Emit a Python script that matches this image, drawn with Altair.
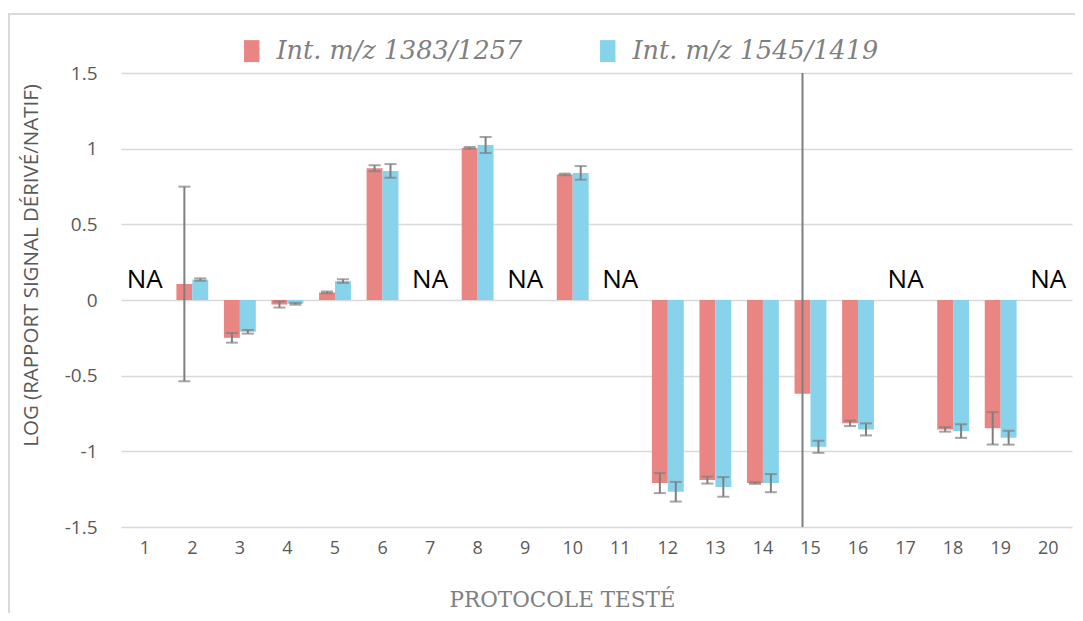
import altair as alt
import pandas as pd

categories = [str(i) for i in range(1, 21)]
na_categories = ["1", "7", "9", "11", "17", "20"]
measured = ["2", "3", "4", "5", "6", "8", "10", "12", "13", "14", "15", "16", "18", "19"]
series_names = ["Int. m/z 1383/1257", "Int. m/z 1545/1419"]

red_values = [0.106, -0.25, -0.03, 0.05, 0.87, 1.005, 0.83, -1.21, -1.19, -1.21, -0.62, -0.815, -0.855, -0.848]
red_sd = [0.643, 0.032, 0.02, 0.006, 0.02, 0.006, 0.005, 0.066, 0.023, 0.005, 2.5, 0.018, 0.015, 0.107]
blue_values = [0.135, -0.21, -0.025, 0.125, 0.853, 1.024, 0.84, -1.267, -1.235, -1.21, -0.97, -0.855, -0.866, -0.91]
blue_sd = [0.008, 0.012, 0.006, 0.012, 0.045, 0.053, 0.045, 0.065, 0.065, 0.06, 0.04, 0.04, 0.045, 0.046]

RED = "#E98683"
BLUE = "#87D3EB"
GRID = "#d9d9d9"
ERR = "#7f7f7f"

rows = []
for name, vals, sds in [(series_names[0], red_values, red_sd), (series_names[1], blue_values, blue_sd)]:
    for c, v, s in zip(measured, vals, sds):
        rows.append({"cat": c, "series": name, "value": v, "lo": v - s, "hi": v + s})
df = pd.DataFrame(rows)

caps = pd.concat([
    df[["cat", "series", "lo"]].rename(columns={"lo": "cap"}),
    df[["cat", "series", "hi"]].rename(columns={"hi": "cap"}),
])

na_df = pd.DataFrame({"cat": na_categories, "zero": [0] * len(na_categories), "label": ["NA"] * len(na_categories)})

x_enc = alt.X(
    "cat:N",
    sort=categories,
    scale=alt.Scale(domain=categories, paddingInner=0.33, paddingOuter=0.165),
    axis=alt.Axis(
        title="PROTOCOLE TESTÉ",
        labelAngle=0,
        ticks=False,
        domain=False,
        grid=False,
        labelFont="Open Sans",
        labelFontSize=18,
        labelColor="#595959",
        labelPadding=12,
        titleFont="DejaVu Serif",
        titleFontSize=21.5,
        titleFontWeight="normal",
        titleColor="#7f7f7f",
        titleX=441,
        titleY=73,
        titleAlign="center",
        titleBaseline="middle",
    ),
)
xoff = alt.XOffset("series:N", sort=series_names,
                   scale=alt.Scale(domain=series_names, paddingInner=0, paddingOuter=0))
y_scale = alt.Scale(domain=[-1.5, 1.5], nice=False, zero=False)
y_axis = alt.Axis(
    title="LOG (RAPPORT SIGNAL DÉRIVÉ/NATIF)",
    values=[-1.5, -1, -0.5, 0, 0.5, 1, 1.5],
    labelExpr="'' + datum.value",
    ticks=False,
    domain=False,
    grid=True,
    gridColor=GRID,
    gridWidth=1.5,
    labelFont="Open Sans",
    labelFontSize=19,
    labelColor="#595959",
    labelPadding=24,
    titleFont="Open Sans",
    titleFontSize=20.5,
    titleFontWeight="normal",
    titleColor="#595959",
    titleX=-90,
    titleY=192,
    titleAngle=270,
    titleAlign="center",
    titleBaseline="middle",
)

bars = alt.Chart(df).mark_bar().encode(
    x=x_enc,
    xOffset=xoff,
    y=alt.Y("value:Q", scale=y_scale, axis=y_axis),
    color=alt.Color(
        "series:N",
        sort=series_names,
        scale=alt.Scale(domain=series_names, range=[RED, BLUE]),
        legend=alt.Legend(
            title=None,
            orient="none",
            legendX=118,
            legendY=-35,
            direction="horizontal",
            symbolType="M-0.7,-1L0.7,-1L0.7,1L-0.7,1Z",
            symbolSize=484,
            symbolStrokeWidth=0,
            symbolOpacity=1,
            labelFont="DejaVu Serif",
            labelFontStyle="italic",
            labelFontSize=25.5,
            labelColor="#7f7f7f",
            labelOffset=12,
            labelLimit=500,
            columnPadding=72,
        ),
    ),
)

whiskers = alt.Chart(df).mark_rule(color=ERR, strokeWidth=2, clip=True).encode(
    x=x_enc, xOffset=xoff, y=alt.Y("lo:Q", scale=y_scale), y2="hi:Q"
)

cap_marks = alt.Chart(caps).mark_tick(color=ERR, thickness=2, size=12, clip=True).encode(
    x=x_enc, xOffset=xoff, y=alt.Y("cap:Q", scale=y_scale)
)

na_text = alt.Chart(na_df).mark_text(
    font="Open Sans", fontSize=26, color="black", baseline="alphabetic", dy=-12
).encode(x=x_enc, y=alt.Y("zero:Q", scale=y_scale), text="label:N")

frame_top = alt.Chart(na_df).mark_rule(color=GRID, strokeWidth=1.5).encode(
    x=alt.value(-113), x2=alt.value(954), y=alt.value(-59)
)
frame_left = alt.Chart(na_df).mark_rule(color=GRID, strokeWidth=1.5).encode(
    x=alt.value(-112), y=alt.value(-59), y2=alt.value(540)
)

chart = alt.layer(bars, whiskers, cap_marks, na_text, frame_top, frame_left).properties(
    width=951,
    height=454,
    padding={"left": 113, "top": 65, "right": 3, "bottom": 86},
    autosize=alt.AutoSizeParams(type="none"),
).configure_view(stroke=None)

chart.save("out.html", embed_options={"renderer": "svg", "actions": False})
